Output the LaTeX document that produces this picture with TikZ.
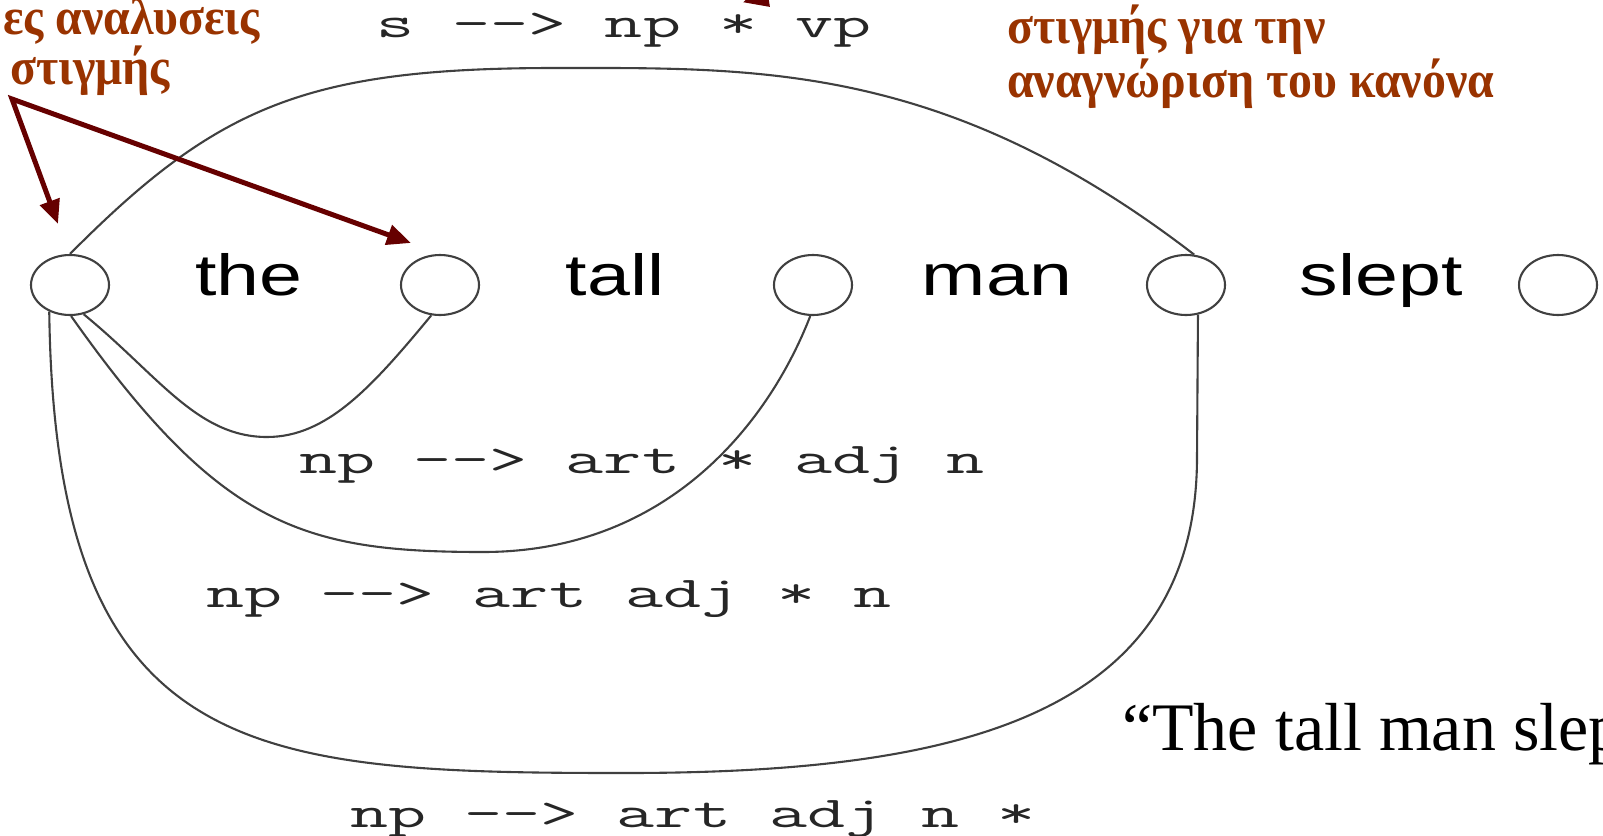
\documentclass[tikz,border=0pt]{standalone}
\usepackage{fontspec}
\usepackage{graphicx}
\usetikzlibrary{shapes.geometric,arrows.meta}
\newfontfamily\sansw{Liberation Sans}
\newfontfamily\serifw{Liberation Serif}
\definecolor{greekc}{RGB}{153,51,0}
\definecolor{arrc}{RGB}{102,0,0}
\newcommand{\wideword}[1]{\scalebox{1.33}[1]{#1}}
\newcommand{\widett}[1]{\scalebox{1.68}[1]{#1}}
\newcommand{\narrownote}[1]{\scalebox{0.92}[1]{#1}}
\tikzset{
  slot/.style={ellipse, draw=black!75, line width=2.1pt, minimum width=78pt, minimum height=60pt, inner sep=0pt},
  word/.style={anchor=base, inner sep=0pt, font=\sansw\fontsize{58}{60}\selectfont},
  rulelabel/.style={anchor=base, inner sep=0pt, text=black!85, font=\ttfamily\fontsize{44}{46}\selectfont},
  arcline/.style={draw=black!75, line width=2.1pt},
  note/.style={inner sep=0pt, text=greekc, font=\serifw\bfseries\fontsize{52}{56}\selectfont},
  pointer/.style={draw=arrc, line width=5pt, line join=miter},
}
\begin{document}
\begin{tikzpicture}[x=1pt,y=-1pt]
\useasboundingbox (0,0) rectangle (1603,835);
\clip (0,0) rectangle (1603,835);
% chart positions
\node[slot] (c1) at (70,285) {};
\node[slot] (c2) at (440,285) {};
\node[slot] (c3) at (813,285) {};
\node[slot] (c4) at (1186,285) {};
\node[slot] (c5) at (1558,285) {};
% words
\node[word] (w1) at (249,295) {\wideword{the}};
\node[word] (w2) at (615,295) {\wideword{tall}};
\node[word] (w3) at (997,295) {\wideword{man}};
\node[word] (w4) at (1381,295) {\wideword{slept}};
% arcs
\draw[arcline] (c1.north) .. controls (217,106) and (306,68) .. (556,68)
   .. controls (756,68) and (944,62) .. (c4.75);
\draw[arcline] (c1.-65) .. controls (158,375) and (197,437) .. (267,437)
   .. controls (327,437) and (372,387) .. (c2.-106);
\draw[arcline] (c1.-88) .. controls (220,527) and (303,552) .. (483,552)
   .. controls (670,552) and (770,420) .. (c3.-95);
\coordinate (cbend) at (1197,457);
\draw[arcline] (c1.-128) .. controls (55,760) and (250,773) .. (625,773)
   .. controls (950,773) and (1197,720) .. (cbend) -- (c4.-68);
% rule labels
\node[rulelabel] (r0) at (624,37) {\widett{s -{}-> np * vp}};
\node[rulelabel] (r1) at (642,473) {\widett{np -{}-> art * adj n}};
\node[rulelabel] (r2) at (549,607) {\widett{np -{}-> art adj * n}};
\node[rulelabel] (r3) at (693,827) {\widett{np -{}-> art adj n *}};
% notes
\node[note, anchor=base east] (n1) at (260,34) {\narrownote{ες αναλυσεις}};
\node[note, anchor=base] (n2) at (90,84) {\narrownote{στιγμής}};
\node[note, anchor=base west] (n3) at (1007,43) {\narrownote{στιγμής για την}};
\node[note, anchor=base west] (n4) at (1007,97) {\narrownote{αναγνώριση του κανόνα}};
\node[anchor=base west, inner sep=0pt, font=\serifw\fontsize{68}{72}\selectfont] (q) at (1122,750) {“The tall man slept”};
% pointers
\coordinate (apex) at (12,99);
\coordinate (tip1) at (58,224);
\coordinate (tip2) at (411,243);
\draw[pointer, {Triangle[length=24pt,width=20pt]}-{Triangle[length=24pt,width=20pt]}] (tip1) -- (apex) -- (tip2);
\coordinate (tstart) at (724,-40);
\coordinate (tend) at (770,7);
\draw[pointer, -{Triangle[length=22pt,width=30pt]}] (tstart) -- (tend);
\end{tikzpicture}
\end{document}
